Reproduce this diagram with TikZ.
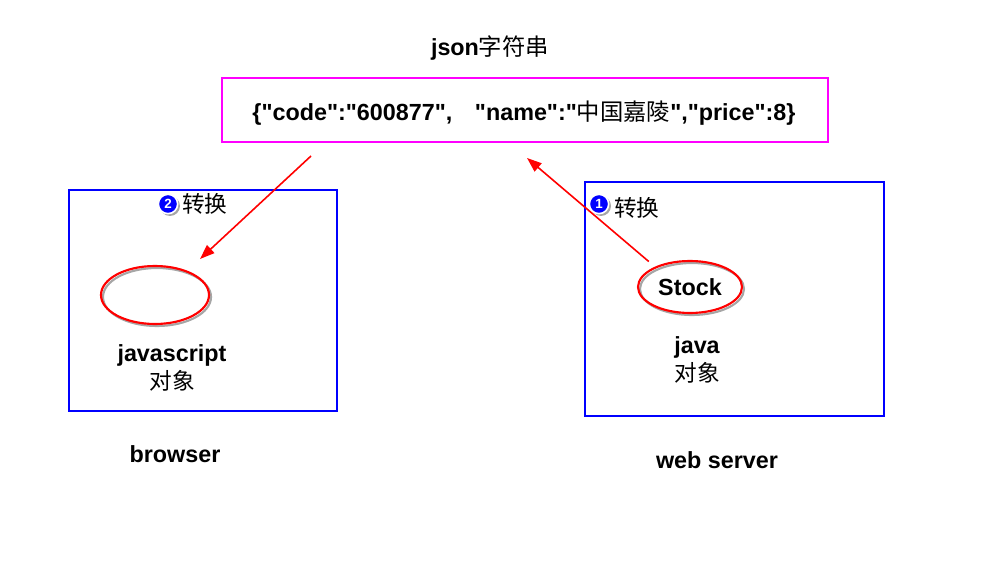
\documentclass[tikz,border=0pt]{standalone}
\usepackage{fontspec}
\setmainfont{Liberation Sans}
\newfontfamily\plainsans{Liberation Sans}
\newfontfamily\cjk{Noto Sans CJK SC}
\usetikzlibrary{arrows.meta,shapes.geometric}
\definecolor{mag}{RGB}{255,0,255}
\definecolor{bl}{RGB}{0,0,255}
\tikzset{
  bluebox/.style={draw=bl, line width=1.5pt},
  lbl/.style={font=\fontsize{17.5}{20}\selectfont\bfseries, inner sep=0pt},
  cjklbl/.style={font=\fontsize{17}{20}\selectfont\cjk, inner sep=0pt},
  redell/.style={ellipse, draw=red, line width=1.6pt, inner sep=0pt},
  shadowell/.style={ellipse, draw=black!35, line width=1.6pt, inner sep=0pt},
  badge/.style={circle, fill=bl, draw=white, line width=1.2pt, minimum size=14.5pt, inner sep=0pt,
     text=white, font=\fontsize{10}{10}\selectfont\bfseries},
  badgeshadow/.style={circle, fill=black!35, minimum size=15pt, inner sep=0pt},
  conv/.style={draw=red, line width=1.2pt, -{Triangle[length=11pt,width=8pt]}}
}
\begin{document}
\begin{tikzpicture}[x=0.75pt,y=-0.75pt]
\useasboundingbox (0,0) rectangle (990,581);
% title
\node[font=\fontsize{17.5}{20}\selectfont\bfseries, inner sep=0pt] (title) at (490,48) {json{\cjk\mdseries 字符串}};
% json box
\node[draw=mag, line width=1.5pt, minimum width=606*0.75pt, minimum height=64*0.75pt, inner sep=0pt] (json) at (525,110) {};
\node[font=\fontsize{17.5}{20}\selectfont\plainsans\bfseries, inner sep=0pt] (jsontext) at (524,113)
  {\{"code":"600877",\hspace{17pt}"name":"{\cjk\mdseries 中国嘉陵}","price":8\}};
% left box
\node[bluebox, minimum width=268*0.75pt, minimum height=221*0.75pt, inner sep=0pt] (browserbox) at (203,300.5) {};
\node[badgeshadow] (b2s) at (170,206) {};
\node[badge] (b2) at (168,204) {2};
\node[cjklbl, anchor=west] (conv2) at (182,204) {转换};
\node[shadowell, minimum width=108*0.75pt, minimum height=58*0.75pt] (jsobjs) at (157,297) {};
\node[redell, minimum width=108*0.75pt, minimum height=58*0.75pt] (jsobj) at (155,295) {};
\node[lbl] (jslabel) at (172,355) {javascript};
\node[cjklbl] (jsdx) at (172,381) {对象};
\node[lbl] (browser) at (175,454) {browser};
% right box
\node[bluebox, minimum width=299*0.75pt, minimum height=234*0.75pt, inner sep=0pt] (serverbox) at (734.5,299) {};
\node[badgeshadow] (b1s) at (601,206) {};
\node[badge] (b1) at (599,204) {1};
\node[cjklbl, anchor=west] (conv1) at (614,208) {转换};
\node[shadowell, minimum width=104*0.75pt, minimum height=52*0.75pt] (stocks) at (692,289) {};
\node[redell, minimum width=104*0.75pt, minimum height=52*0.75pt, font=\fontsize{17.5}{20}\selectfont\bfseries] (stock) at (690,287) {Stock};
\node[lbl] (javalabel) at (697,347) {java};
\node[cjklbl] (javadx) at (697,373) {对象};
\node[lbl] (webserver) at (717,460) {web server};
% arrows
\coordinate (a1end) at (527,158);
\coordinate (a2start) at (311,156);
\coordinate (a2end) at (200,259);
\draw[conv, shorten <=6pt] (stock.150) -- (a1end);
\draw[conv] (a2start) -- (a2end);
\end{tikzpicture}
\end{document}
